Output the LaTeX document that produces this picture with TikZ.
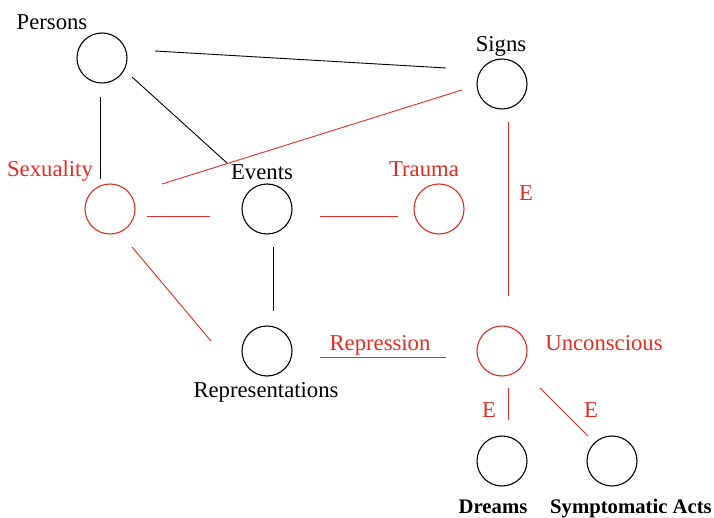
\documentclass[tikz,border=0pt]{standalone}
\usepackage{fontspec}
\setmainfont{Liberation Serif}
\usetikzlibrary{calc}
\definecolor{fred}{RGB}{225,45,35}
\tikzset{
  circ/.style={circle,draw,minimum size=50pt,inner sep=0pt,line width=1.1pt},
  rcirc/.style={circ,draw=fred},
  blk/.style={line width=0.9pt,black},
  red/.style={line width=0.9pt,fred},
  lbl/.style={anchor=base,inner sep=0pt,font=\rmfamily\fontsize{22.7}{27}\selectfont},
  rlbl/.style={lbl,text=fred},
  blbl/.style={lbl,font=\rmfamily\fontsize{20.7}{25}\selectfont\bfseries}
}
\begin{document}
\begin{tikzpicture}[x=1pt,y=-1pt]
\useasboundingbox (0,0) rectangle (714,518);
% circles
\node[circ]  (persons) at (102,58) {};
\node[circ]  (signs)   at (502,84) {};
\node[rcirc] (sex)     at (110,209) {};
\node[circ]  (events)  at (267,209) {};
\node[rcirc] (trauma)  at (439,209) {};
\node[circ]  (rep)     at (267,351) {};
\node[rcirc] (unc)     at (502,351) {};
\node[circ]  (dreams)  at (502,461) {};
\node[circ]  (sym)     at (612,461) {};
% labels
\node[lbl]  (lpersons) at (52,30)  {Persons};
\node[lbl]  (lsigns)   at (501,52) {Signs};
\node[rlbl] (lsex)     at (50,177) {Sexuality};
\node[lbl]  (levents)  at (262,180) {Events};
\node[rlbl] (ltrauma)  at (424,177) {Trauma};
\node[rlbl] (le1)      at (526,201) {E};
\node[lbl]  (lrep)     at (266,397) {Representations};
\node[rlbl] (lrepr)    at (380,350) {Repression};
\node[rlbl] (lunc)     at (604,350) {Unconscious};
\node[rlbl] (le2)      at (489,417) {E};
\node[rlbl] (le3)      at (591,417) {E};
\node[blbl] (ldreams)  at (493,513) {Dreams};
\node[blbl] (lsym)     at (631,513) {Symptomatic Acts};
% connectors
\draw[blk] ($(persons)+(53,-7)$) -- ($(signs)+(-56,-16)$);
\draw[blk] ($(persons)+(30,19)$) -- ($(events)+(-40,-46)$);
\draw[blk] ($(persons)+(-2,39)$) -- ($(sex)+(-10,-30)$);
\draw[red] ($(sex)+(52,-25)$) -- ($(signs)+(-40,6)$);
\draw[red] ($(sex)+(37,7)$) -- ($(events)+(-57,7)$);
\draw[red] ($(events)+(53,7)$) -- ($(trauma)+(-41,7)$);
\draw[red] ($(signs)+(6,38)$) -- ($(unc)+(6,-55)$);
\draw[red] ($(sex)+(22,38)$) -- ($(rep)+(-56,-10)$);
\draw[blk] ($(events)+(6,38)$) -- ($(rep)+(6,-40)$);
\draw[red] ($(rep)+(53,6)$) -- ($(unc)+(-56,6)$);
\draw[red] ($(unc)+(6,37)$) -- ($(dreams)+(6,-41)$);
\draw[red] ($(unc)+(38,37)$) -- ($(sym)+(-24,-25)$);
\end{tikzpicture}
\end{document}
